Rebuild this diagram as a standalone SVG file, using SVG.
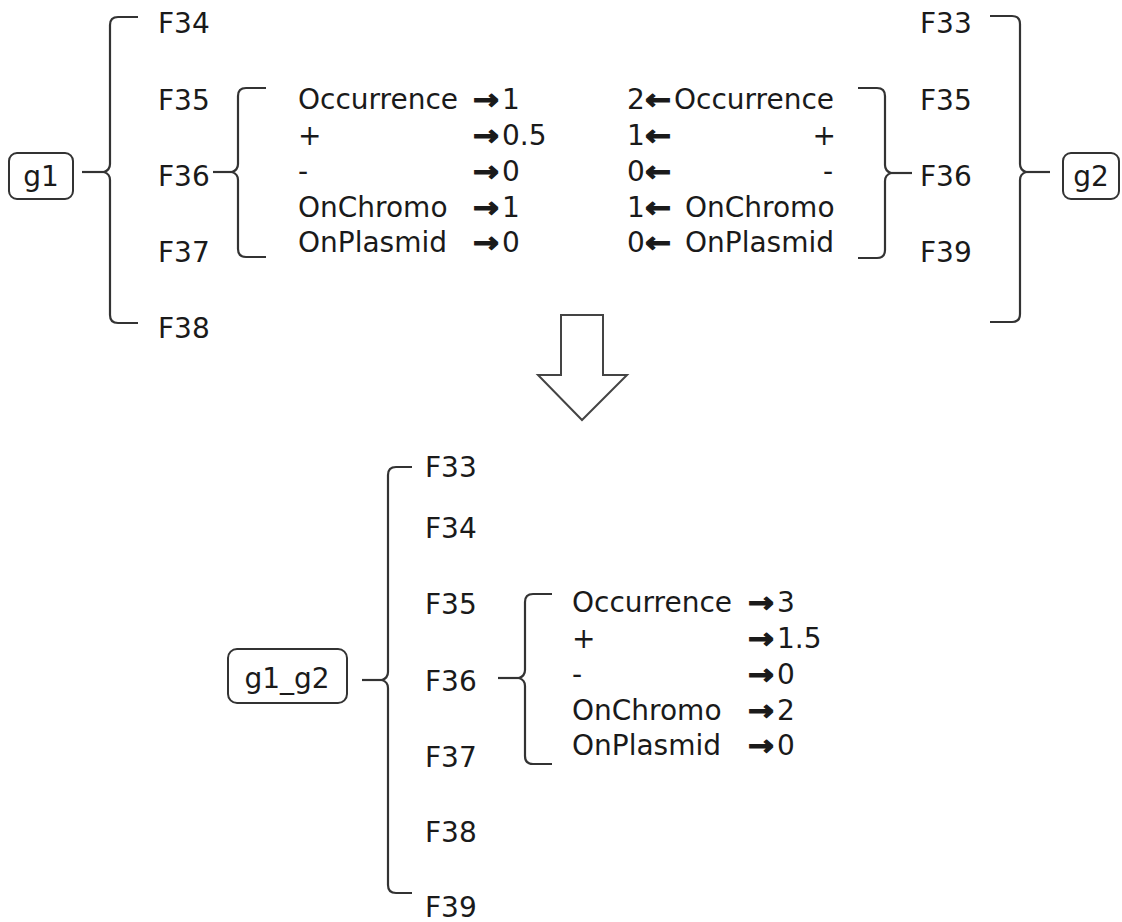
<svg xmlns="http://www.w3.org/2000/svg" width="1122" height="922" viewBox="0 0 1122 922">
<style>
text{font-family:"DejaVu Sans","Verdana",sans-serif;font-size:28px;fill:#1a1a1a}
.ar{font-weight:bold;stroke:#1a1a1a;stroke-width:1.2}
.e{text-anchor:end}
.m{text-anchor:middle}
.br{fill:none;stroke:#333;stroke-width:2.2}
.box{fill:#fff;stroke:#333;stroke-width:2}
</style>
<rect width="1122" height="922" fill="#fff"/>
<g id="connectors">
<path class="br" d="M138,17 L118,17 Q110,17 110,25 L110,164 Q110,170 104,172 Q110,174 110,180 L110,315 Q110,323 118,323 L138,323"/>
<line class="br" x1="82" y1="172" x2="104" y2="172"/>
<path class="br" d="M266,88 L246,88 Q238,88 238,96 L238,164 Q238,170 232,172 Q238,174 238,180 L238,249 Q238,257 246,257 L266,257"/>
<line class="br" x1="213" y1="172" x2="232" y2="172"/>
<path class="br" d="M858,88 L877,88 Q885,88 885,96 L885,165 Q885,171 891,173 Q885,175 885,181 L885,250 Q885,258 877,258 L858,258"/>
<line class="br" x1="891" y1="173" x2="912" y2="173"/>
<path class="br" d="M990,16 L1012,16 Q1020,16 1020,24 L1020,164 Q1020,170 1026,172 Q1020,174 1020,180 L1020,314 Q1020,322 1012,322 L990,322"/>
<line class="br" x1="1026" y1="172" x2="1050" y2="172"/>
<path class="br" d="M412,467 L396,467 Q388,467 388,475 L388,672 Q388,678 382,680 Q388,682 388,688 L388,885 Q388,893 396,893 L412,893"/>
<line class="br" x1="362" y1="680" x2="382" y2="680"/>
<path class="br" d="M552,594 L533,594 Q525,594 525,602 L525,670 Q525,676 519,678 Q525,680 525,686 L525,756 Q525,764 533,764 L552,764"/>
<line class="br" x1="498" y1="678" x2="519" y2="678"/>
</g>
<g id="g1">
<rect class="box" x="9" y="153" width="64" height="46" rx="8"/>
<text class="m" x="41" y="186">g1</text>
</g>
<g id="g1-features">
<text x="158" y="33">F34</text>
<text x="158" y="110">F35</text>
<text x="158" y="186">F36</text>
<text x="158" y="262">F37</text>
<text x="158" y="338">F38</text>
</g>
<g id="g1-F36-values">
<text x="298" y="109">Occurrence</text>
<text x="298" y="145">+</text>
<text x="298" y="181">-</text>
<text x="298" y="217">OnChromo</text>
<text x="298" y="252">OnPlasmid</text>
<text class="ar" x="473" y="109" textLength="26" lengthAdjust="spacingAndGlyphs">→</text>
<text class="ar" x="473" y="145" textLength="26" lengthAdjust="spacingAndGlyphs">→</text>
<text class="ar" x="473" y="181" textLength="26" lengthAdjust="spacingAndGlyphs">→</text>
<text class="ar" x="473" y="217" textLength="26" lengthAdjust="spacingAndGlyphs">→</text>
<text class="ar" x="473" y="252" textLength="26" lengthAdjust="spacingAndGlyphs">→</text>
<text x="502" y="109">1</text>
<text x="502" y="145">0.5</text>
<text x="502" y="181">0</text>
<text x="502" y="217">1</text>
<text x="502" y="252">0</text>
</g>
<g id="g2-F36-values">
<text x="627" y="109">2</text>
<text x="627" y="145">1</text>
<text x="627" y="181">0</text>
<text x="627" y="217">1</text>
<text x="627" y="252">0</text>
<text class="ar" x="645" y="109" textLength="26" lengthAdjust="spacingAndGlyphs">←</text>
<text class="ar" x="645" y="145" textLength="26" lengthAdjust="spacingAndGlyphs">←</text>
<text class="ar" x="645" y="181" textLength="26" lengthAdjust="spacingAndGlyphs">←</text>
<text class="ar" x="645" y="217" textLength="26" lengthAdjust="spacingAndGlyphs">←</text>
<text class="ar" x="645" y="252" textLength="26" lengthAdjust="spacingAndGlyphs">←</text>
<text x="674" y="109">Occurrence</text>
<text class="e" x="836" y="145">+</text>
<text class="e" x="833" y="181">-</text>
<text x="685" y="217">OnChromo</text>
<text x="685" y="252">OnPlasmid</text>
</g>
<g id="g2-features">
<text x="920" y="33">F33</text>
<text x="920" y="110">F35</text>
<text x="920" y="186">F36</text>
<text x="920" y="262">F39</text>
</g>
<g id="g2">
<rect class="box" x="1063" y="153" width="56" height="46" rx="8"/>
<text class="m" x="1091" y="186">g2</text>
</g>
<g id="merge-arrow">
<polygon points="561,315 603,315 603,375 627,375 582,420 538,375 561,375" fill="#fff" stroke="#444" stroke-width="2"/>
</g>
<g id="g1_g2">
<rect class="box" x="228" y="649" width="119" height="54" rx="9"/>
<text class="m" x="287" y="688">g1_g2</text>
</g>
<g id="g1_g2-features">
<text x="425" y="477">F33</text>
<text x="425" y="538">F34</text>
<text x="425" y="614">F35</text>
<text x="425" y="691">F36</text>
<text x="425" y="767">F37</text>
<text x="425" y="842">F38</text>
<text x="425" y="917">F39</text>
</g>
<g id="g1_g2-F36-values">
<text x="572" y="612">Occurrence</text>
<text x="572" y="648">+</text>
<text x="572" y="684">-</text>
<text x="572" y="720">OnChromo</text>
<text x="572" y="755">OnPlasmid</text>
<text class="ar" x="748" y="612" textLength="26" lengthAdjust="spacingAndGlyphs">→</text>
<text class="ar" x="748" y="648" textLength="26" lengthAdjust="spacingAndGlyphs">→</text>
<text class="ar" x="748" y="684" textLength="26" lengthAdjust="spacingAndGlyphs">→</text>
<text class="ar" x="748" y="720" textLength="26" lengthAdjust="spacingAndGlyphs">→</text>
<text class="ar" x="748" y="755" textLength="26" lengthAdjust="spacingAndGlyphs">→</text>
<text x="777" y="612">3</text>
<text x="777" y="648">1.5</text>
<text x="777" y="684">0</text>
<text x="777" y="720">2</text>
<text x="777" y="755">0</text>
</g>
</svg>
